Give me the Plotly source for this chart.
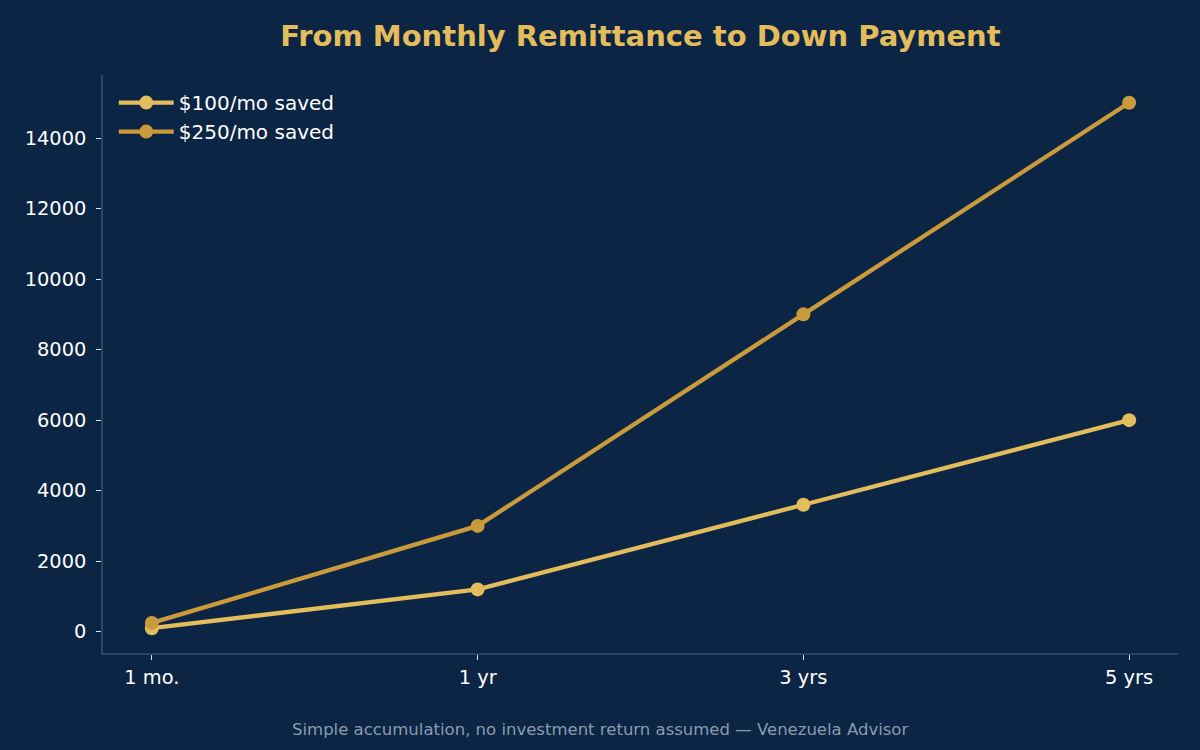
import plotly.graph_objects as go

# data
periods = ["1 mo.", "1 yr", "3 yrs", "5 yrs"]
saved_100 = [100, 1200, 3600, 6000]
saved_250 = [250, 3000, 9000, 15000]
y_ticks = [0, 2000, 4000, 6000, 8000, 10000, 12000, 14000]

BG = "#0c2544"
SPINE = "#2c4466"
GOLD_LIGHT = "#e3bc5c"
GOLD_DARK = "#c99b3a"
FONT = "DejaVu Sans"

fig = go.Figure()

fig.add_trace(go.Scatter(
    x=periods, y=saved_100, mode="lines+markers", name="$100/mo saved",
    line=dict(color=GOLD_LIGHT, width=4.3),
    marker=dict(color=GOLD_LIGHT, size=14),
))
fig.add_trace(go.Scatter(
    x=periods, y=saved_250, mode="lines+markers", name="$250/mo saved",
    line=dict(color=GOLD_DARK, width=4.3),
    marker=dict(color=GOLD_DARK, size=14),
))

fig.update_layout(
    width=1200, height=750,
    paper_bgcolor=BG, plot_bgcolor=BG,
    font=dict(family=FONT, size=19, color="#ffffff"),
    margin=dict(l=103, r=22, t=75, b=97),
    title=dict(
        text="<b>From Monthly Remittance to Down Payment</b>",
        xref="paper", x=0.5, xanchor="center", y=0.952, yanchor="middle",
        font=dict(family=FONT, size=29, color=GOLD_LIGHT),
    ),
    legend=dict(
        x=0.01, y=0.986, xanchor="left", yanchor="top",
        bgcolor="rgba(0,0,0,0)", font=dict(size=20, color="#ffffff"),
        itemwidth=55,
    ),
    showlegend=True,
)

fig.update_xaxes(
    range=[-0.15, 3.15], showgrid=False, zeroline=False,
    showline=True, linecolor=SPINE, linewidth=1.5,
    ticks="outside", ticklen=5, tickcolor="#dfe4ea", tickwidth=1.2,
    ticklabelstandoff=1,
    tickfont=dict(size=19.4, color="#ffffff"),
)
fig.update_yaxes(
    range=[-604, 15788], showgrid=False, zeroline=False,
    showline=True, linecolor=SPINE, linewidth=1.5,
    ticks="outside", ticklen=5, tickcolor="#dfe4ea", tickwidth=1.2,
    tickvals=y_ticks, tickformat="d", ticklabelstandoff=6,
    tickfont=dict(size=19.4, color="#ffffff"),
)

# footer is centred on the whole figure, not the axes
fig.add_annotation(
    text="Simple accumulation, no investment return assumed — Venezuela Advisor",
    xref="paper", yref="paper", x=(600 - 103) / 1075, y=-0.133,
    xanchor="center", yanchor="middle",
    showarrow=False, font=dict(family=FONT, size=16.5, color="#8a9bb2"),
)

fig.write_html("out.html", config={"displayModeBar": False},
               post_script="document.body.style.margin='0';")
